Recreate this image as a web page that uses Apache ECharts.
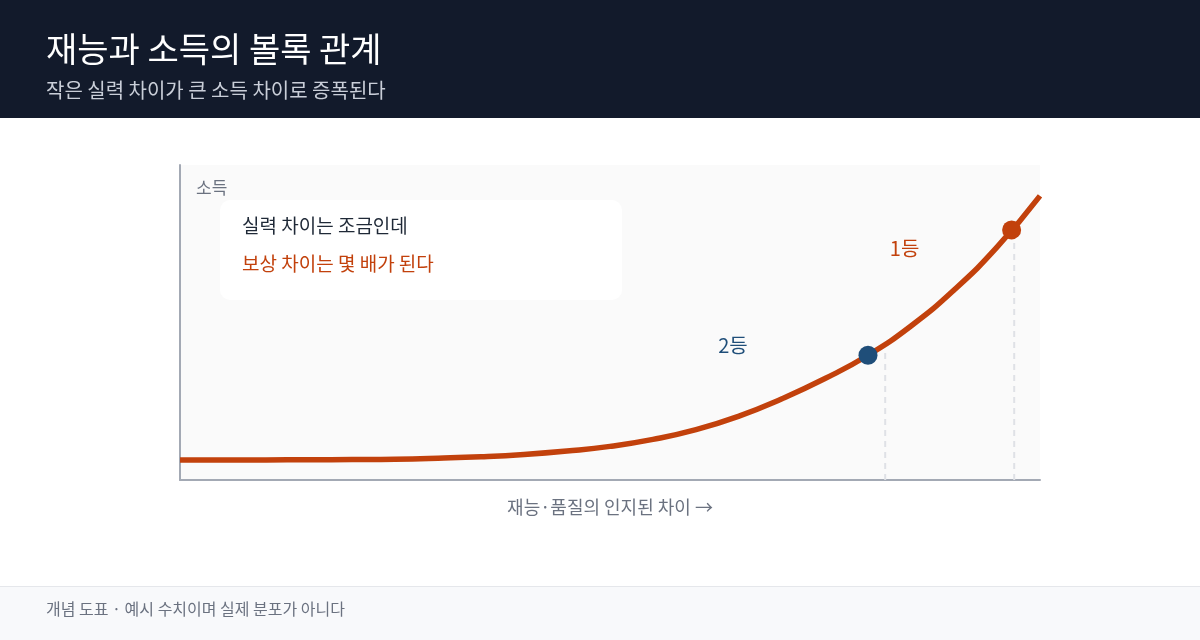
<!DOCTYPE html>
<html>
<head>
<meta charset="utf-8">
<script src="https://cdn.jsdelivr.net/npm/echarts@6/dist/echarts.min.js"></script>
<style>
html,body{margin:0;padding:0;background:#fff;}
#c{width:1200px;height:640px;}
</style>
</head>
<body>
<div id="c"></div>
<script>
// data
var curveX = [0, 5, 10, 15, 20, 25, 30, 35, 40, 45, 50, 55, 60, 65, 70, 75, 80, 85, 90, 95, 100];
var curveY = [6.35, 6.35, 6.38, 6.41, 6.48, 6.6, 6.92, 7.37, 8.1, 9.2, 10.67, 12.9, 16.0, 20.3, 25.8, 32.2, 39.6, 48.9, 60.3, 73.9, 90.2];
var rankNames = ['2등', '1등'];
var rankX = [80, 96.7];
var rankY = [39.6, 79.4];
var guideX = [82, 97];
var guideTop = [42, 78];
var titleText = '재능과 소득의 볼록 관계';
var subtitleText = '작은 실력 차이가 큰 소득 차이로 증폭된다';
var yName = '소득';
var xName = '재능·품질의 인지된 차이 →';
var noteLines = ['실력 차이는 조금인데', '보상 차이는 몇 배가 된다'];
var footText = '개념 도표 · 예시 수치이며 실제 분포가 아니다';

var FONT = '"Noto Sans CJK KR", "Noto Sans", sans-serif';
var ORANGE = '#c2410c';
var BLUE = '#1f4e79';

var chart = echarts.init(document.getElementById('c'), null, {renderer: 'canvas'});

var series = [];
series.push({
  type: 'line',
  data: curveX.map(function(x, i){ return [x, curveY[i]]; }),
  smooth: 0.5,
  showSymbol: false,
  lineStyle: {color: ORANGE, width: 5.5, cap: 'butt'},
  z: 3,
  silent: true
});
guideX.forEach(function(x, i){
  series.push({
    type: 'line',
    data: [[x, 0], [x, guideTop[i]]],
    showSymbol: false,
    lineStyle: {color: '#dfe1e6', width: 2, type: [6, 5]},
    z: 2,
    silent: true
  });
});
var rankColors = [BLUE, ORANGE];
var labelOffsets = [[-135, -10], [-107, 19]];
rankX.forEach(function(x, i){
  series.push({
    type: 'scatter',
    data: [[x, rankY[i]]],
    symbolSize: 19,
    itemStyle: {color: rankColors[i], opacity: 1},
    z: 5,
    label: {
      show: true,
      formatter: rankNames[i],
      position: 'inside',
      offset: labelOffsets[i],
      color: rankColors[i],
      fontSize: 20,
      fontFamily: FONT
    },
    silent: true
  });
});

chart.setOption({
  animation: false,
  backgroundColor: '#ffffff',
  grid: {left: 180, top: 165, width: 860, height: 315, show: true, backgroundColor: '#fafafa', borderWidth: 0},
  xAxis: {
    type: 'value', min: 0, max: 100,
    axisLine: {show: true, lineStyle: {color: '#a3a9b4', width: 2}},
    axisTick: {show: false}, axisLabel: {show: false}, splitLine: {show: false},
    name: xName, nameLocation: 'middle', nameGap: 18,
    nameTextStyle: {color: '#6b7280', fontSize: 18, fontFamily: FONT}
  },
  yAxis: {
    type: 'value', min: 0, max: 100,
    axisLine: {show: true, lineStyle: {color: '#a3a9b4', width: 2}},
    axisTick: {show: false}, axisLabel: {show: false}, splitLine: {show: false}
  },
  series: series,
  graphic: [
    {type: 'rect', left: 0, top: 0, shape: {width: 1200, height: 118}, style: {fill: '#121a2b'}, z: 0},
    {type: 'text', left: 46, top: 32, style: {text: titleText, fill: '#ffffff', fontSize: 34, fontFamily: FONT}},
    {type: 'text', left: 46, top: 80, style: {text: subtitleText, fill: '#c9ced8', fontSize: 20, fontFamily: FONT}},
    {type: 'text', left: 196, top: 179, style: {text: yName, fill: '#6b7280', fontSize: 17, fontFamily: FONT}, z: 10},
    {type: 'rect', left: 220, top: 200, shape: {width: 402, height: 100, r: 10}, style: {fill: '#ffffff'}, z: 10},
    {type: 'text', left: 242, top: 216, style: {text: noteLines[0], fill: '#1f2937', fontSize: 19, fontFamily: FONT}, z: 11},
    {type: 'text', left: 242, top: 254, style: {text: noteLines[1], fill: ORANGE, fontSize: 19, fontFamily: FONT}, z: 11},
    {type: 'rect', left: 0, top: 586, shape: {width: 1200, height: 54}, style: {fill: '#f8f9fb'}, z: 0},
    {type: 'line', shape: {x1: 0, y1: 586.5, x2: 1200, y2: 586.5}, style: {stroke: '#e5e7eb', lineWidth: 1}, z: 1},
    {type: 'text', left: 46, top: 601, style: {text: footText, fill: '#6b7280', fontSize: 16, fontFamily: FONT}, z: 2}
  ]
});
</script>
</body>
</html>
